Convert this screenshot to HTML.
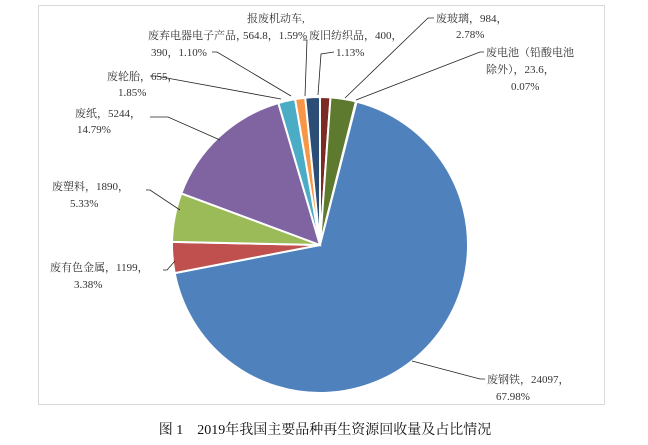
<!DOCTYPE html>
<html><head><meta charset="utf-8"><style>
body{margin:0;background:#fff;width:648px;height:440px;overflow:hidden}
svg text{font-family:"Liberation Serif","Noto Serif CJK SC",serif;font-size:11px;fill:#333}
</style></head><body>
<svg id="s" width="648" height="440" xmlns="http://www.w3.org/2000/svg">
<rect x="38.5" y="5.5" width="566" height="399" fill="#fff" stroke="#d9d9d9"/>
<g id="pie"></g>
<g stroke="#222" stroke-width="0.8" fill="none">
<polyline points="305,96 307,40 303,40"/>
<polyline points="318,95 321,54 334,52"/>
<polyline points="345,98 428,18 434,18"/>
<polyline points="356,100 480,52 484,52"/>
<polyline points="291,96 217,52 212,52"/>
<polyline points="281,99 156,76 150,76"/>
<polyline points="220,140 168,117 150,117"/>
<polyline points="180,210 150,190 146,190"/>
<polyline points="175,261 167,270 163,270"/>
<polyline points="412,361 480,379 485,379"/>
</g>
<text x="247" y="22">报废机动车,</text>
<text x="243" y="39">564.8，1.59%</text>
<text x="309" y="39">废旧纺织品，400，</text>
<text x="336" y="56">1.13%</text>
<text x="436" y="22">废玻璃，984，</text>
<text x="456" y="38">2.78%</text>
<text x="486" y="56">废电池（铅酸电池</text>
<text x="486" y="73">除外），23.6，</text>
<text x="511" y="90">0.07%</text>
<text x="148" y="39">废弃电器电子产品，</text>
<text x="151" y="56">390，1.10%</text>
<text x="107" y="80">废轮胎，655，</text>
<text x="118" y="96">1.85%</text>
<text x="75" y="117">废纸，5244，</text>
<text x="77" y="133">14.79%</text>
<text x="52" y="190">废塑料，1890，</text>
<text x="70" y="207">5.33%</text>
<text x="50" y="271">废有色金属，1199，</text>
<text x="74" y="288">3.38%</text>
<text x="487" y="383">废钢铁，24097，</text>
<text x="496" y="400">67.98%</text>
<text x="325" y="434" text-anchor="middle" style="font-size:14px;fill:#111">图 1　2019年我国主要品种再生资源回收量及占比情况</text>
</svg>
<script>
var d=[[1.13,"#7b2a24"],[2.78,"#5e7a2e"],[0.07,"#3a6ea5"],[67.98,"#4f81bd"],[3.38,"#c0504d"],[5.33,"#9bbb59"],[14.79,"#8064a2"],[1.85,"#4bacc6"],[1.10,"#f79646"],[1.59,"#2c4d75"]];
var cx=320,cy=245,r=148,a=0,g=document.getElementById("pie"),h="";
d.forEach(function(x){var a2=a+x[0]/100*2*Math.PI;
var x1=cx+r*Math.sin(a),y1=cy-r*Math.cos(a),x2=cx+r*Math.sin(a2),y2=cy-r*Math.cos(a2);
h+='<path d="M'+cx+' '+cy+'L'+x1+' '+y1+'A'+r+' '+r+' 0 '+(a2-a>Math.PI?1:0)+' 1 '+x2+' '+y2+'Z" fill="'+x[1]+'" stroke="#fff" stroke-width="2"/>';a=a2;});
g.innerHTML=h;
</script>
</body></html>
